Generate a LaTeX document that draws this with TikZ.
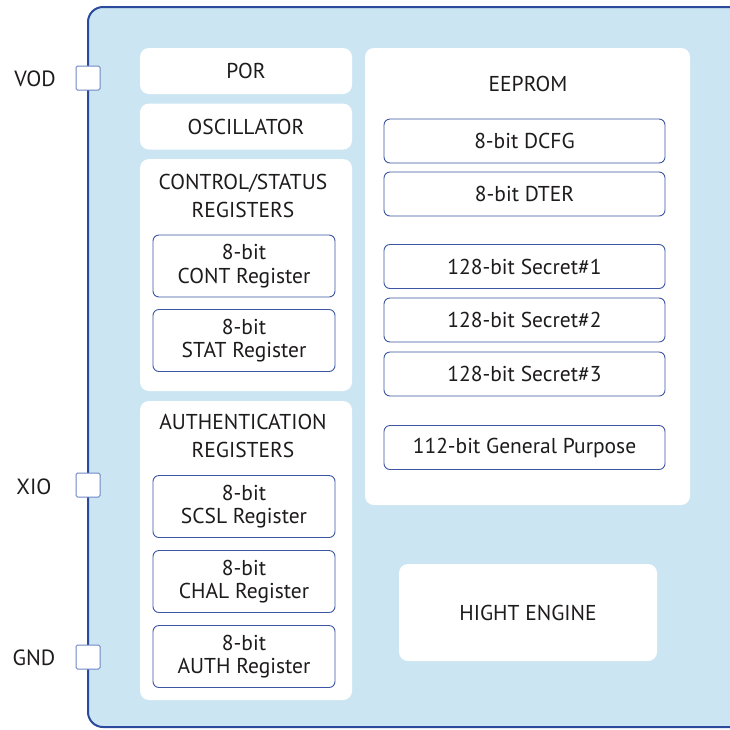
\documentclass[tikz,border=0pt]{standalone}
\usepackage{fontspec}
\setmainfont{PT Sans}
\definecolor{chipfill}{HTML}{CBE6F2}
\definecolor{chipline}{HTML}{2B4A9C}
\definecolor{regline}{HTML}{3D56A3}
\definecolor{pinline}{HTML}{6F86C6}
\definecolor{ink}{HTML}{1E1B1C}
\tikzset{
  block/.style={fill=white, rounded corners=9pt, inner sep=0pt},
  reg/.style={draw=regline, line width=0.9pt, fill=white, rounded corners=6pt,
    minimum width=182pt, inner sep=0pt, align=center,
    font=\fontsize{21.5}{23.5}\selectfont},
  title/.style={align=center, font=\fontsize{21.5}{27.5}\selectfont},
  pin/.style={draw=pinline, line width=1pt, fill=white, rounded corners=1.5pt,
    minimum size=24pt, inner sep=0pt},
  pinlabel/.style={font=\fontsize{22}{24}\selectfont}
}
\begin{document}
\begin{tikzpicture}[x=1pt, y=-1pt, text=ink]
  \useasboundingbox (0,0) rectangle (730,729);
  % chip body
  \draw[chipline, line width=2pt, fill=chipfill, rounded corners=15pt]
    (88,7) rectangle (780,727);
  % pins
  \node[pin] (vod) at (88,78) {};
  \node[pin] (xio) at (88,485) {};
  \node[pin] (gnd) at (88,657) {};
  \node[pinlabel] (vodl) at (35,79) {VOD};
  \node[pinlabel] (xiol) at (34,487) {XIO};
  \node[pinlabel] (gndl) at (34,658) {GND};
  % left column
  \node[block, minimum width=212pt, minimum height=46pt, title] (por) at (246,71) {POR};
  \node[block, minimum width=212pt, minimum height=46pt, title] (osc) at (246,126.5) {OSCILLATOR};
  \node[block, minimum width=212pt, minimum height=232pt] (cs) at (246,275) {};
  \node[title] (cst) at (243,196) {CONTROL/STATUS\\REGISTERS};
  \node[reg, minimum height=62pt] (cont) at (244,266) {8-bit\\CONT Register};
  \node[reg, minimum height=62pt] (stat) at (244,340.5) {8-bit\\STAT Register};
  \node[block, minimum width=212pt, minimum height=299pt] (auth) at (246,550.5) {};
  \node[title] (autht) at (243,436) {AUTHENTICATION\\REGISTERS};
  \node[reg, minimum height=62pt] (scsl) at (244,506.5) {8-bit\\SCSL Register};
  \node[reg, minimum height=62pt] (chal) at (244,581.5) {8-bit\\CHAL Register};
  \node[reg, minimum height=62pt] (authr) at (244,656.5) {8-bit\\AUTH Register};
  % eeprom
  \node[block, minimum width=325pt, minimum height=457pt] (ee) at (527.5,276.5) {};
  \node[title] (eet) at (528,84) {EEPROM};
  \node[reg, minimum width=281pt, minimum height=44pt] (dcfg) at (524.5,141) {8-bit DCFG};
  \node[reg, minimum width=281pt, minimum height=44pt] (dter) at (524.5,194) {8-bit DTER};
  \node[reg, minimum width=281pt, minimum height=44pt] (sec1) at (524.5,266.5) {128-bit Secret\#1};
  \node[reg, minimum width=281pt, minimum height=44pt] (sec2) at (524.5,320) {128-bit Secret\#2};
  \node[reg, minimum width=281pt, minimum height=44pt] (sec3) at (524.5,374) {128-bit Secret\#3};
  \node[reg, minimum width=281pt, minimum height=44pt] (gp) at (524.5,447.5) {112-bit General Purpose};
  % engine
  \node[block, minimum width=258pt, minimum height=97pt, title] (eng) at (528,612.5) {HIGHT ENGINE};
\end{tikzpicture}
\end{document}
